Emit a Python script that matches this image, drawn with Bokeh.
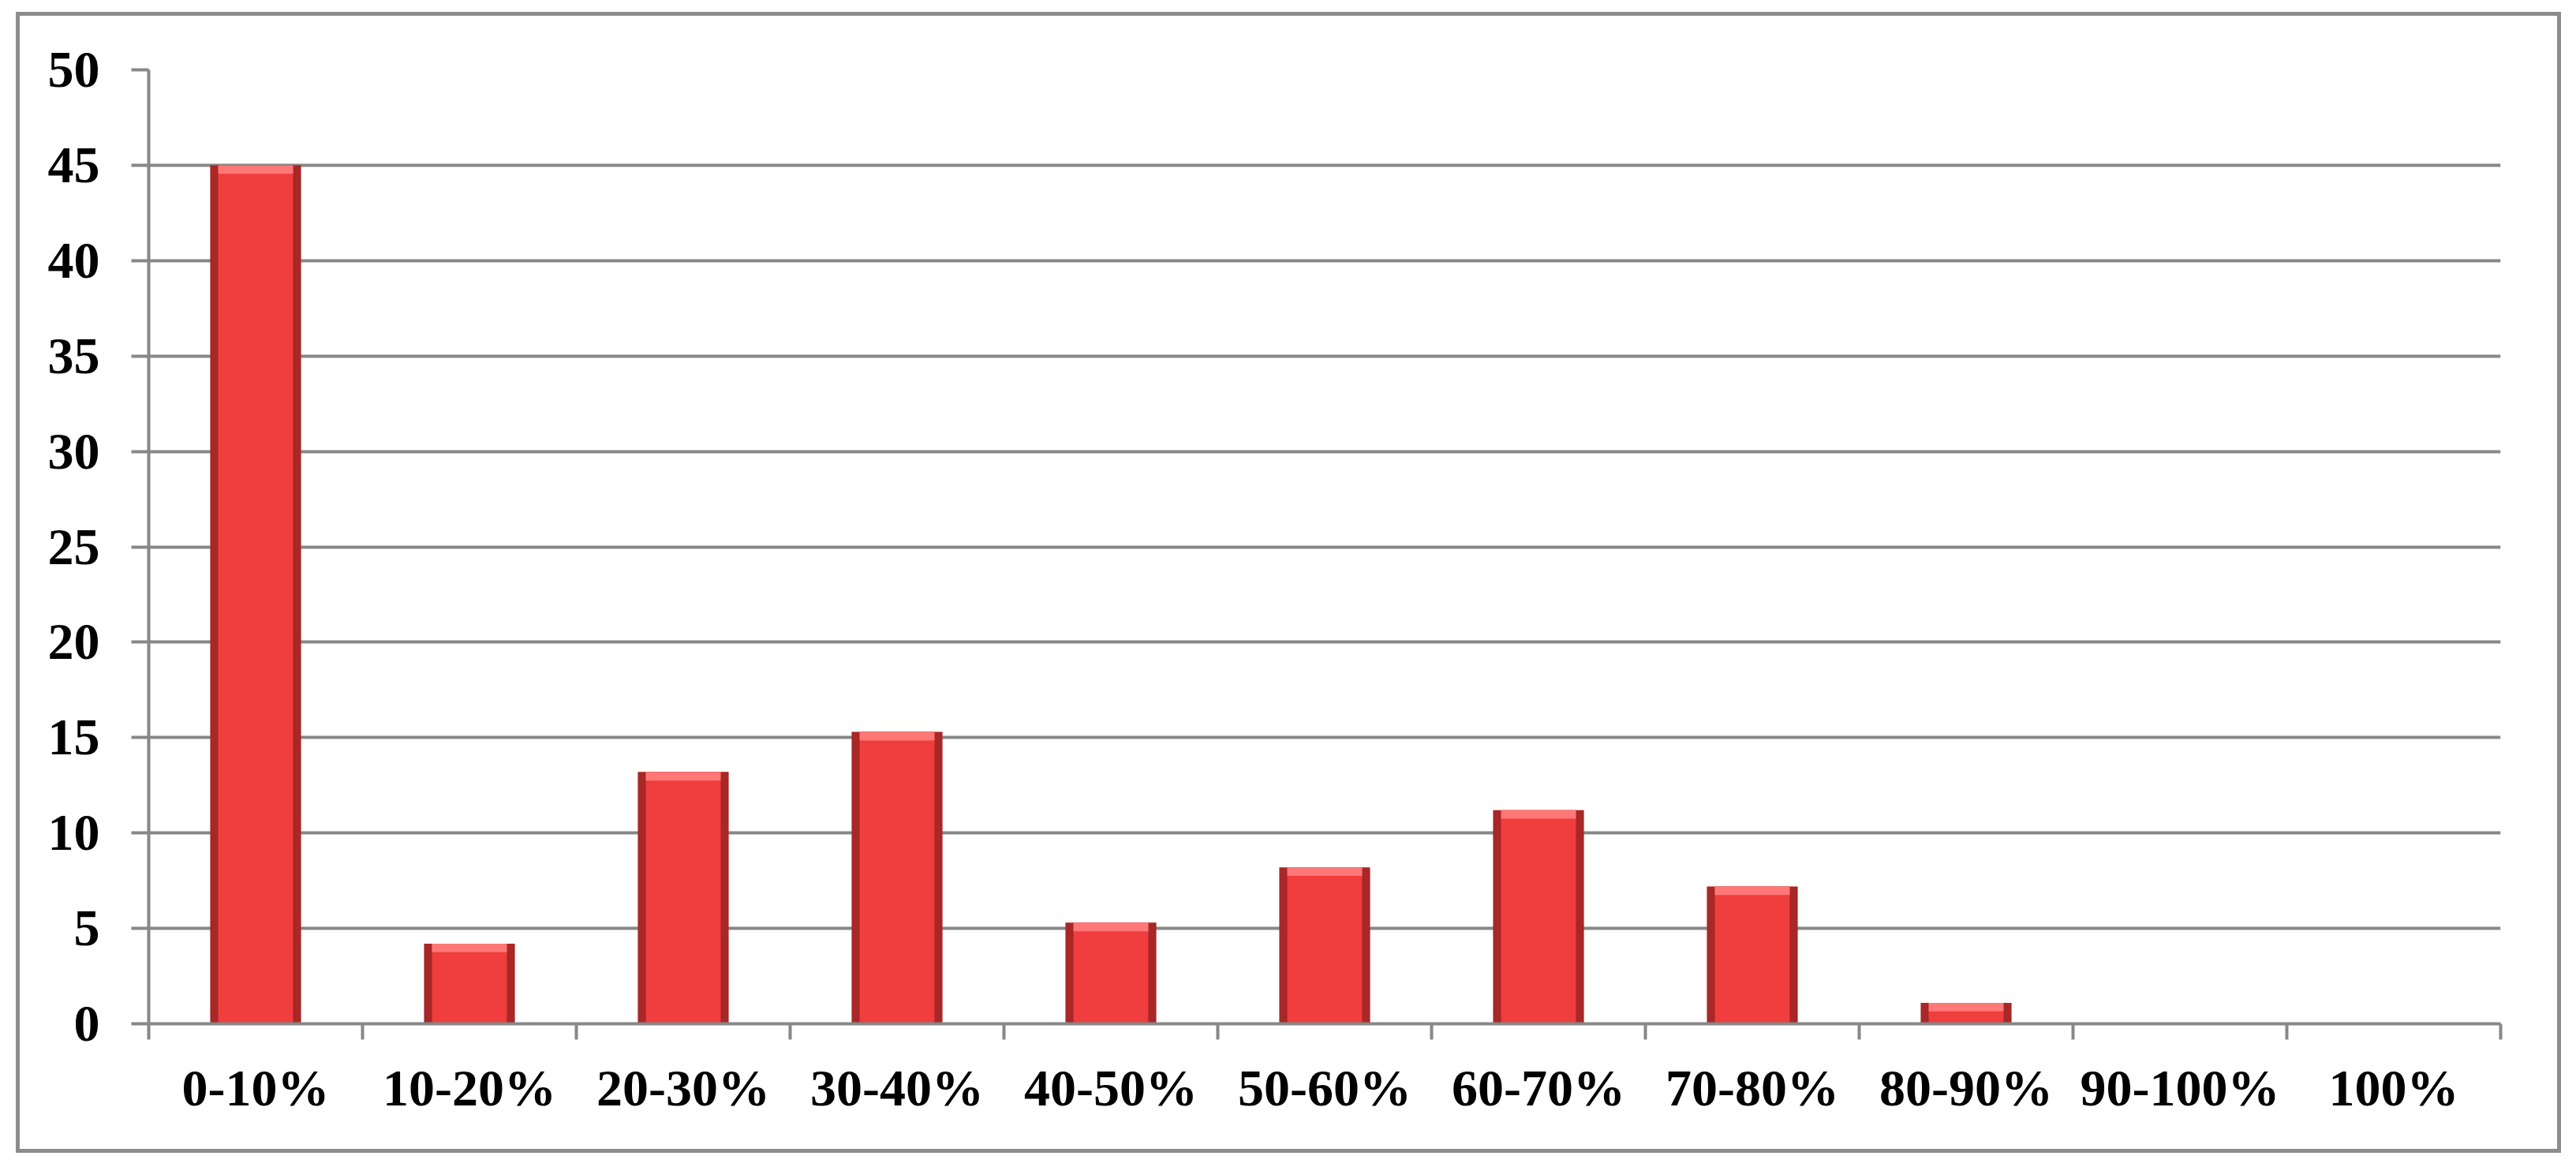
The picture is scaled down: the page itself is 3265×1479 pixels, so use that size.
from bokeh.plotting import figure
from bokeh.layouts import column
from bokeh.models import Range1d, FixedTicker, ColumnDataSource
from bokeh.embed import file_html
from bokeh.resources import INLINE

categories = ["0-10%", "10-20%", "20-30%", "30-40%", "40-50%", "50-60%",
              "60-70%", "70-80%", "80-90%", "90-100%", "100%"]
values = [45, 4.2, 13.2, 15.3, 5.3, 8.2, 11.2, 7.2, 1.1, 0, 0]
y_ticks = [0, 5, 10, 15, 20, 25, 30, 35, 40, 45, 50]

GRAY = "#878787"
FONT = "Liberation Serif"

n = len(categories)
xs = [i + 0.5 for i in range(n)]
src = ColumnDataSource(dict(
    x=xs,
    top=values,
    hl=[max(v - 0.45, 0) for v in values],
))

p = figure(width=3216, height=1436,
           x_range=Range1d(0, n), y_range=Range1d(0, 50),
           output_backend="svg", toolbar_location=None,
           min_border_left=163, min_border_right=72,
           min_border_top=68, min_border_bottom=159)
p.outline_line_color = None
p.background_fill_color = "white"
p.border_fill_color = "white"

# grid
p.xgrid.visible = False
p.ygrid.ticker = FixedTicker(ticks=y_ticks)
p.ygrid.grid_line_color = GRAY
p.ygrid.grid_line_width = 4

# y axis
yax = p.yaxis[0]
yax.ticker = FixedTicker(ticks=y_ticks)
yax.axis_line_color = GRAY
yax.axis_line_width = 4
yax.major_tick_line_color = GRAY
yax.major_tick_line_width = 4
yax.major_tick_out = 22
yax.major_tick_in = 0
yax.minor_tick_line_color = None
yax.major_label_standoff = 40
yax.major_label_text_font = FONT
yax.major_label_text_font_style = "bold"
yax.major_label_text_font_size = "66px"
yax.major_label_text_color = "black"

# x axis: labels at centres, tick marks at boundaries
xax = p.xaxis[0]
xax.ticker = FixedTicker(ticks=xs, minor_ticks=list(range(n + 1)))
xax.major_label_overrides = {x: c for x, c in zip(xs, categories)}
xax.axis_line_color = GRAY
xax.axis_line_width = 4
xax.major_tick_line_color = None
xax.major_tick_out = 0
xax.major_tick_in = 0
xax.minor_tick_line_color = GRAY
xax.minor_tick_line_width = 4
xax.minor_tick_out = 20
xax.minor_tick_in = 0
xax.major_label_standoff = 24
xax.major_label_text_font = FONT
xax.major_label_text_font_style = "bold"
xax.major_label_text_font_size = "66px"
xax.major_label_text_color = "black"

# bars (layered to suggest the bevelled 3D look)
p.vbar(x="x", top="top", bottom=0, width=0.425, source=src,
       fill_color="#a82727", line_color=None)
p.vbar(x="x", top="top", bottom=0, width=0.35, source=src,
       fill_color="#f03d3d", line_color=None)
p.vbar(x="x", top="top", bottom="hl", width=0.35, source=src,
       fill_color="#ff7878", line_color=None)

# outer chart border drawn by a wrapping layout
layout = column(p, styles={"border": "5px solid #8c8c8c"},
                margin=(15, 0, 0, 20))

open("out.html", "w").write(file_html(layout, INLINE))
